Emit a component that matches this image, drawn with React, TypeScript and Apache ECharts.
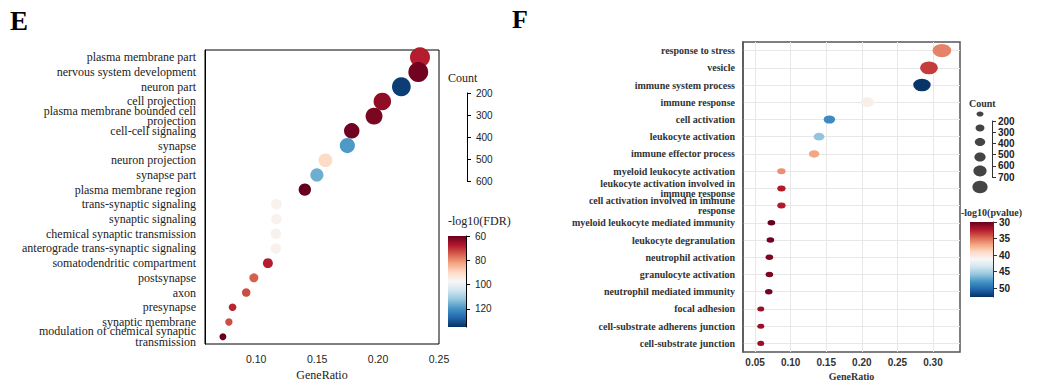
import React, { useEffect, useRef } from "react";
import * as echarts from "echarts";

// ---------- Panel E data ----------
const termsE = [
  "plasma membrane part",
  "nervous system development",
  "neuron part",
  "cell projection",
  "plasma membrane bounded cell projection",
  "cell-cell signaling",
  "synapse",
  "neuron projection",
  "synapse part",
  "plasma membrane region",
  "trans-synaptic signaling",
  "synaptic signaling",
  "chemical synaptic transmission",
  "anterograde trans-synaptic signaling",
  "somatodendritic compartment",
  "postsynapse",
  "axon",
  "presynapse",
  "synaptic membrane",
  "modulation of chemical synaptic transmission",
];
const ratioE = [0.2344, 0.233, 0.2191, 0.2035, 0.1967, 0.1784, 0.1748, 0.1568, 0.1498, 0.1399,
  0.1166, 0.1166, 0.1161, 0.1161, 0.1096, 0.0981, 0.0918, 0.0806, 0.0776, 0.0727];
const countE = [609, 606, 570, 529, 511, 464, 454, 408, 389, 364, 303, 303, 302, 302, 285, 255, 239, 210, 202, 189];
const fdrE = [68, 61, 133, 64, 62, 61, 119, 90, 116, 60, 96, 96, 96, 96, 68, 75, 73, 69, 73, 60];
const xTicksE = [0.1, 0.15, 0.2, 0.25];
const countTicksE = [200, 300, 400, 500, 600];
const fdrTicksE = [60, 80, 100, 120];

// ---------- Panel F data ----------
const termsF = [
  "response to stress",
  "vesicle",
  "immune system process",
  "immune response",
  "cell activation",
  "leukocyte activation",
  "immune effector process",
  "myeloid leukocyte activation",
  "leukocyte activation involved in immune response",
  "cell activation involved in immune response",
  "myeloid leukocyte mediated immunity",
  "leukocyte degranulation",
  "neutrophil activation",
  "granulocyte activation",
  "neutrophil mediated immunity",
  "focal adhesion",
  "cell-substrate adherens junction",
  "cell-substrate junction",
];
const ratioF = [0.3126, 0.2944, 0.2845, 0.2077, 0.1544, 0.1399, 0.1329, 0.087, 0.087, 0.087,
  0.0729, 0.0715, 0.0701, 0.0701, 0.0692, 0.058, 0.058, 0.058];
const countF = [750, 707, 683, 498, 371, 336, 319, 209, 209, 209, 175, 172, 168, 168, 166, 139, 139, 139];
const pvalF = [35.7, 33.4, 52.5, 40.7, 48.6, 45.9, 36.8, 36.1, 32.3, 32.3, 30, 30.3, 30.6, 30.6, 30.4, 31.5, 31.5, 31.5];
const xTicksF = [0.05, 0.1, 0.15, 0.2, 0.25, 0.3];
const countTicksF = [200, 300, 400, 500, 600, 700];
const pvalTicksF = [30, 35, 40, 45, 50];

const RdBu = ["#67001f", "#b2182b", "#d6604d", "#f4a582", "#fddbc7", "#f7f7f7",
  "#d1e5f0", "#92c5de", "#4393c3", "#2166ac", "#053061"];

const breaks: Record<string, string> = {
  "plasma membrane bounded cell projection": "plasma membrane bounded cell\nprojection",
  "modulation of chemical synaptic transmission": "modulation of chemical synaptic\ntransmission",
  "leukocyte activation involved in immune response": "leukocyte activation involved in\nimmune response",
  "cell activation involved in immune response": "cell activation involved in immune\nresponse",
};

const SERIF = "'Liberation Serif', 'Times New Roman', serif";
const SANS = "'Liberation Sans', Arial, sans-serif";
const ELLIPSE = "path://M0,5A5,5 0 1 1 10,5A5,5 0 1 1 0,5Z";

function gradient() {
  return new echarts.graphic.LinearGradient(0, 0, 0, 1,
    RdBu.map((c, i) => ({ offset: i / (RdBu.length - 1), color: c })));
}

function legendAxis(grid: number, ticks: number[], max: number, color: string, bold: boolean, margin: number) {
  return {
    gridIndex: grid,
    type: "value",
    position: "right",
    inverse: true,
    min: ticks[0],
    max,
    interval: ticks[1] - ticks[0],
    axisLine: { show: true, onZero: false, lineStyle: { color, width: 1 } },
    axisTick: { show: true, length: 4, customValues: ticks, lineStyle: { color } },
    axisLabel: {
      show: true, margin, fontFamily: SANS, fontSize: 10, color: "#222",
      customValues: ticks, hideOverlap: false,
      fontWeight: bold ? "bold" : "normal",
    },
    splitLine: { show: false },
  };
}

export default function App() {
  const ref = useRef<HTMLDivElement>(null);
  useEffect(() => {
    if (!ref.current) return;
    const chart = echarts.init(ref.current, undefined, { renderer: "svg" });
    const legendEllipses = [
      { cy: 114, rx: 3.5, ry: 2.6 },
      { cy: 128, rx: 4.5, ry: 3.4 },
      { cy: 142, rx: 5.2, ry: 4 },
      { cy: 157, rx: 5.6, ry: 4.6 },
      { cy: 171, rx: 6.6, ry: 5.4 },
      { cy: 187, rx: 7.6, ry: 6.2 },
    ];
    const option: any = {
      animation: false,
      backgroundColor: "#fff",
      grid: [
        { left: 205, top: 50, width: 234, height: 298, show: true, borderColor: "#000", borderWidth: 1 },
        { left: 743, top: 42, width: 217, height: 312, show: true, borderColor: "#555", borderWidth: 1.5 },
        { left: 457, top: 93, width: 10, height: 88 },
        { left: 456, top: 236, width: 10, height: 91 },
        { left: 985, top: 121, width: 7, height: 56 },
        { left: 986, top: 222, width: 7, height: 75 },
      ],
      xAxis: [
        {
          gridIndex: 0, type: "value", min: 0.058, max: 0.25, splitNumber: 4,
          name: "GeneRatio", nameLocation: "middle", nameGap: 25, nameMoveOverlap: false,
          nameTextStyle: { fontFamily: SERIF, fontSize: 12, color: "#222" },
          axisLine: { lineStyle: { color: "#000" } },
          axisTick: { length: 5, lineStyle: { color: "#000" }, customValues: xTicksE },
          axisLabel: {
            customValues: xTicksE, formatter: (v: number) => v.toFixed(2),
            fontFamily: SANS, fontSize: 10.5, color: "#222", margin: 9,
          },
          splitLine: { show: false },
        },
        {
          gridIndex: 1, type: "value", min: 0.033, max: 0.338, splitNumber: 5,
          name: "GeneRatio", nameLocation: "middle", nameGap: 19, nameMoveOverlap: false,
          nameTextStyle: { fontFamily: SERIF, fontSize: 10, fontWeight: "bold", color: "#333" },
          axisLine: { lineStyle: { color: "#555", width: 1.5 } },
          axisTick: { length: 4, lineStyle: { color: "#444" }, customValues: xTicksF },
          axisLabel: {
            customValues: xTicksF, formatter: (v: number) => v.toFixed(2),
            fontFamily: SANS, fontSize: 10, fontWeight: "bold", color: "#333", margin: 5,
          },
          splitLine: { show: true, lineStyle: { color: "#e8e8e8", width: 1 } },
        },
        { gridIndex: 2, type: "value", show: false, min: 0, max: 1 },
        { gridIndex: 3, type: "value", show: false, min: 0, max: 1 },
        { gridIndex: 4, type: "value", show: false, min: 0, max: 1 },
        { gridIndex: 5, type: "value", show: false, min: 0, max: 1 },
      ],
      yAxis: [
        {
          gridIndex: 0, type: "category", data: termsE, inverse: true,
          axisLine: { lineStyle: { color: "#000" } },
          axisTick: { alignWithLabel: true, length: 5, lineStyle: { color: "#000" } },
          axisLabel: {
            fontFamily: SERIF, fontSize: 12, color: "#222", lineHeight: 10.5, margin: 9,
            interval: 0, formatter: (v: string) => breaks[v] || v,
          },
          splitLine: { show: false },
        },
        {
          gridIndex: 1, type: "category", data: termsF, inverse: true,
          axisLine: { lineStyle: { color: "#555", width: 1.5 } },
          axisTick: { alignWithLabel: true, length: 4, lineStyle: { color: "#444" } },
          axisLabel: {
            fontFamily: SERIF, fontSize: 10, fontWeight: "bold", color: "#333", lineHeight: 9.5, margin: 8,
            interval: 0, formatter: (v: string) => breaks[v] || v,
          },
          splitLine: { show: true, alignWithLabel: true, interval: 0, lineStyle: { color: "#e8e8e8", width: 1 } },
        },
        legendAxis(2, countTicksE, 600, "#000", false, 9),
        legendAxis(3, fdrTicksE, 135, "#000", false, 9),
        legendAxis(4, countTicksF, 700, "#333", true, 6),
        legendAxis(5, pvalTicksF, 52.7, "#333", true, 6),
      ],
      visualMap: [
        { type: "continuous", show: false, seriesIndex: 0, dimension: 2, min: 60, max: 135, inRange: { color: RdBu } },
        { type: "continuous", show: false, seriesIndex: 1, dimension: 2, min: 30, max: 52.7, inRange: { color: RdBu } },
      ],
      series: [
        {
          type: "scatter", xAxisIndex: 0, yAxisIndex: 0, symbol: "circle",
          data: termsE.map((t, i) => [ratioE[i], t, fdrE[i], countE[i]]),
          symbolSize: (v: any[]) => 1.1 + 0.031 * v[3],
          itemStyle: { opacity: 1 },
          clip: false,
        },
        {
          type: "scatter", xAxisIndex: 1, yAxisIndex: 1, symbol: ELLIPSE, symbolKeepAspect: false,
          data: termsF.map((t, i) => [ratioF[i], t, pvalF[i], countF[i]]),
          symbolSize: (v: any[]) => {
            const w = 4.34 + 0.01915 * v[3];
            return [w, w * 0.72];
          },
          itemStyle: { opacity: 1 },
          clip: false,
        },
      ],
      graphic: [
        { type: "text", left: 10, top: 7, style: { text: "E", font: `bold 27px ${SERIF}`, fill: "#000" } },
        { type: "text", left: 512, top: 6, style: { text: "F", font: `bold 26px ${SERIF}`, fill: "#000" } },
        { type: "text", left: 448, top: 72, style: { text: "Count", font: `12px ${SERIF}`, fill: "#222" } },
        { type: "text", left: 448, top: 215, style: { text: "-log10(FDR)", font: `12px ${SERIF}`, fill: "#222" } },
        { type: "rect", shape: { x: 448, y: 236, width: 18, height: 91 }, style: { fill: gradient() } },
        { type: "text", left: 969, top: 98, style: { text: "Count", font: `bold 10px ${SERIF}`, fill: "#333" } },
        { type: "text", left: 961, top: 207, style: { text: "-log10(pvalue)", font: `bold 10px ${SERIF}`, fill: "#333" } },
        { type: "rect", shape: { x: 970, y: 222, width: 23, height: 75 }, style: { fill: gradient() } },
        ...legendEllipses.map((e) => ({
          type: "ellipse", shape: { cx: 980, cy: e.cy, rx: e.rx, ry: e.ry }, style: { fill: "#444" },
        })),
      ],
    };
    chart.setOption(option);
    return () => chart.dispose();
  }, []);
  return (
    <div
      ref={ref}
      style={{ position: "absolute", left: 0, top: 0, width: 1039, height: 386, background: "#fff" }}
    />
  );
}
